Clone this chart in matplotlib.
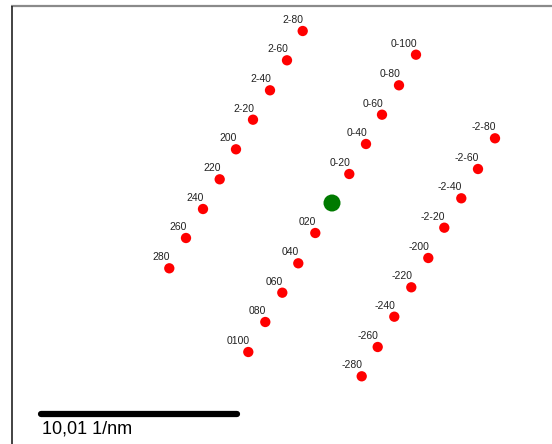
"""
Diffraction spot pattern with hkl labels and scale bar
"""

import matplotlib
matplotlib.use("Agg")
import matplotlib.pyplot as plt


# ==========================================================
# DATA  (spot positions, pixel space)
# ==========================================================

spot_labels = [
    "2-80", "2-60", "2-40", "2-20", "200", "220", "240", "260", "280",
    "0-100", "0-80", "0-60", "0-40", "0-20", "020", "040", "060", "080", "0100",
    "-2-80", "-2-60", "-2-40", "-2-20", "-200", "-220", "-240", "-260", "-280",
]

spot_x = [
    302.7, 287.0, 270.0, 253.0, 236.0, 219.7, 203.0, 186.0, 169.3,
    416.0, 399.0, 382.0, 366.0, 349.3, 315.3, 298.3, 282.3, 265.3, 248.3,
    495.0, 478.0, 461.3, 444.3, 428.3, 411.3, 394.3, 377.7, 361.7,
]

spot_y = [
    31.0, 60.3, 90.3, 119.7, 149.3, 179.3, 209.0, 238.0, 268.3,
    54.7, 85.3, 114.7, 144.0, 174.0, 233.0, 263.3, 292.7, 322.0, 352.0,
    138.3, 169.0, 198.3, 227.7, 258.0, 287.3, 316.7, 347.0, 376.3,
]

center_x = 332.0
center_y = 203.0

scale_text = "10,01 1/nm"
scale_x = [41.0, 236.5]
scale_y = [414.0, 414.0]


# ==========================================================
# FIGURE
# ==========================================================

fig = plt.figure(figsize=(5.52, 4.44), dpi=100)
ax = fig.add_axes([0, 0, 1, 1])
ax.set_xlim(0, 552)
ax.set_ylim(444, 0)
ax.axis("off")

# frame (only top and left edges visible)
ax.plot([11, 552], [6.5, 6.5], color="#8a8a8a", lw=1.6, solid_capstyle="butt")
ax.plot([11.5, 11.5], [6, 444], color="#222222", lw=1.2, solid_capstyle="butt")

# spots
ax.scatter(spot_x, spot_y, s=55, color="#ff0000", edgecolors="none", zorder=3)
ax.scatter([center_x], [center_y], s=150, color="#007a00", edgecolors="none", zorder=3)

# hkl labels
for lab, x, y in zip(spot_labels, spot_x, spot_y):
    ax.text(x + 1, y - 6, lab, ha="right", va="bottom",
            fontsize=7.5, family="Liberation Sans", color="#222222")

# scale bar
ax.plot(scale_x, scale_y, color="black", lw=4.5, solid_capstyle="round")
ax.text(41.5, 429, scale_text, ha="left", va="center",
        fontsize=13, family="Liberation Sans", color="black")

fig.savefig("out.png", dpi=100)
